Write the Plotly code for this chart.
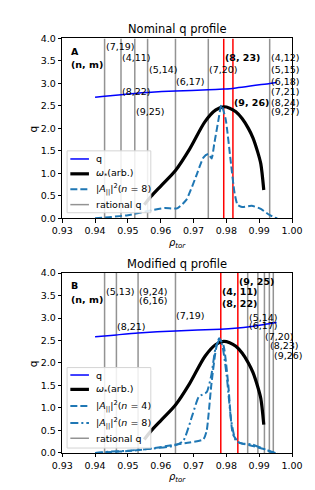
import plotly.graph_objects as go

# ---------------- data ----------------
# Panel A (nominal q profile)
rhoA_q = [0.940, 0.9429, 0.9479, 0.9521, 0.9560, 0.9645, 0.9745, 0.9792, 0.9820, 0.9932, 0.9953]
qA = [2.69, 2.714, 2.75, 2.778, 2.80, 2.833, 2.857, 2.875, 2.889, 3.0, 3.02]

rho_w = [0.955, 0.9570, 0.9603, 0.9645, 0.9688, 0.9735, 0.9768, 0.9792, 0.9810, 0.9829,
         0.9848, 0.9867, 0.9881, 0.9896, 0.9905, 0.9914]
omega = [0.30, 0.485, 0.74, 1.065, 1.54, 2.15, 2.41, 2.48, 2.45, 2.37,
         2.22, 2.0, 1.79, 1.46, 1.21, 0.63]

rhoA_A8 = [0.940, 0.945, 0.950, 0.9565, 0.9612, 0.9650, 0.9678, 0.9707, 0.9730, 0.9745,
           0.9755, 0.9763, 0.9775, 0.9785, 0.9798, 0.9812, 0.9825, 0.9834, 0.9848, 0.9877,
           0.9905, 0.9928, 0.9947, 0.9955]
A8_A = [0.0, 0.03, 0.07, 0.17, 0.23, 0.22, 0.41, 0.92, 1.35, 1.43,
        1.33, 1.65, 2.15, 2.52, 2.2, 1.35, 0.56, 0.30, 0.25, 0.28,
        0.21, 0.09, 0.015, 0.0]

ratA_rho = [0.9429, 0.9479, 0.9521, 0.9560, 0.9645, 0.9745, 0.9932]
resA_rho = [0.9792, 0.9820]

labA_text = ["(7,19)", "(4,11)", "(8,22)", "(9,25)", "(5,14)", "(6,17)", "(7,20)",
             "<b>(8, 23)</b>", "<b>(9, 26)</b>",
             "(4,12)", "(5,15)", "(6,18)", "(7,21)", "(8,24)", "(9,27)"]
labA_rho = [0.9429, 0.9479, 0.9479, 0.9521, 0.9560, 0.9645, 0.9745,
            0.9792, 0.9820,
            0.9932, 0.9932, 0.9932, 0.9932, 0.9932, 0.9932]
labA_q = [3.82, 3.58, 2.82, 2.37, 3.30, 3.05, 3.30,
          3.58, 2.57,
          3.58, 3.30, 3.05, 2.82, 2.57, 2.37]

# Panel B (modified q profile)
rhoB_q = [0.940, 0.9429, 0.9465, 0.9531, 0.9645, 0.9783, 0.9835, 0.9865, 0.9896, 0.9916,
          0.9931, 0.9943, 0.9953]
qB = [2.585, 2.6, 2.625, 2.667, 2.714, 2.75, 2.778, 2.8, 2.833, 2.857,
      2.875, 2.889, 2.90]

rhoB_A4 = [0.940, 0.945, 0.950, 0.9565, 0.9641, 0.9688, 0.9730, 0.9740, 0.9754, 0.9768,
           0.9778, 0.9792, 0.9806, 0.9820, 0.9839, 0.9877, 0.9914, 0.9943, 0.9955]
A4_B = [0.0, 0.02, 0.04, 0.09, 0.18, 0.23, 0.30, 0.49, 1.5, 2.30,
        2.55, 2.37, 1.5, 0.41, 0.23, 0.16, 0.087, 0.015, 0.0]

rhoB_A8 = [0.940, 0.945, 0.950, 0.9565, 0.9641, 0.9669, 0.9697, 0.9716, 0.9740, 0.9754,
           0.9768, 0.9778, 0.9787, 0.9801, 0.9815, 0.9829, 0.9848, 0.9877, 0.9914, 0.9938,
           0.9950]
A8_B = [0.0, 0.03, 0.05, 0.09, 0.16, 0.27, 0.85, 1.25, 1.35, 1.72,
        2.37, 2.5, 2.41, 1.72, 0.70, 0.27, 0.21, 0.19, 0.09, 0.015,
        0.0]

ratB_rho = [0.9429, 0.9465, 0.9531, 0.9645, 0.9865, 0.9896, 0.9916, 0.9931, 0.9943]
resB_rho = [0.9783, 0.9835]

labB_text = ["(5,13)", "(8,21)", "(9,24)", "(6,16)", "(7,19)",
             "<b>(4, 11)</b>", "<b>(8, 22)</b>", "<b>(9, 25)</b>",
             "(5,14)", "(6,17)", "(7,20)", "(8,23)", "(9,26)"]
labB_rho = [0.9429, 0.9465, 0.9531, 0.9531, 0.9645,
            0.9783, 0.9783, 0.9835,
            0.9865, 0.9865, 0.9916, 0.9931, 0.9943]
labB_q = [3.58, 2.82, 3.58, 3.38, 3.06,
          3.58, 3.33, 3.82,
          3.02, 2.84, 2.60, 2.40, 2.17]

x_ticks = [0.93, 0.94, 0.95, 0.96, 0.97, 0.98, 0.99, 1.00]
y_ticks = [0.0, 0.5, 1.0, 1.5, 2.0, 2.5, 3.0, 3.5, 4.0]

LEG_Q = "q"
LEG_W = "<i>ω</i><sub>*</sub>(arb.)"
LEG_A4 = "|<i>A</i><sub>||</sub>|<sup>2</sup>(<i>n</i> = 4)"
LEG_A8 = "|<i>A</i><sub>||</sub>|<sup>2</sup>(<i>n</i> = 8)"
LEG_R = "rational q"

# ---------------- figure ----------------
W, H = 315, 490
FONT = "DejaVu Sans"
GRAY = "rgba(128,128,128,0.85)"
C0 = "#1f77b4"
DASH = "7px,3px"
DASHDOT = "8px,3px,2px,3px"

fig = go.Figure()


def vlines(rhos):
    xs, ys = [], []
    for r in rhos:
        xs += [r, r, None]
        ys += [0, 4, None]
    return xs, ys


def add_panel(xa, ya, rat, res, rq, qv, a_curves):
    xs, ys = vlines(rat)
    fig.add_trace(go.Scatter(x=xs, y=ys, mode="lines", line=dict(color=GRAY, width=1.5),
                             name=LEG_R, xaxis=xa, yaxis=ya, hoverinfo="skip"))
    xs, ys = vlines(res)
    fig.add_trace(go.Scatter(x=xs, y=ys, mode="lines", line=dict(color="red", width=1.5),
                             xaxis=xa, yaxis=ya, hoverinfo="skip"))
    fig.add_trace(go.Scatter(x=rq, y=qv, mode="lines", line=dict(color="blue", width=1.5,
                             shape="spline", smoothing=0.6),
                             name=LEG_Q, xaxis=xa, yaxis=ya))
    fig.add_trace(go.Scatter(x=rho_w, y=omega, mode="lines",
                             line=dict(color="black", width=3.2, shape="spline", smoothing=0.8),
                             name=LEG_W, xaxis=xa, yaxis=ya))
    for rx, ay, nm, dash in a_curves:
        fig.add_trace(go.Scatter(x=rx, y=ay, mode="lines",
                                 line=dict(color=C0, width=2, dash=dash, shape="spline",
                                           smoothing=0.5),
                                 name=nm, xaxis=xa, yaxis=ya))


add_panel("x", "y", ratA_rho, resA_rho, rhoA_q, qA,
          [(rhoA_A8, A8_A, LEG_A8, DASH)])
add_panel("x2", "y2", ratB_rho, resB_rho, rhoB_q, qB,
          [(rhoB_A4, A4_B, LEG_A4, DASH),
           (rhoB_A8, A8_B, LEG_A8, DASHDOT)])

xdom = [46.5 / W, 293.5 / W]
ydomA = [1 - 209 / H, 1 - 25 / H]
ydomB = [1 - 449 / H, 1 - 265 / H]

axis_common = dict(showline=True, mirror=True, linecolor="black", linewidth=1,
                   ticks="outside", ticklen=3.5, tickwidth=0.8, tickcolor="black",
                   showgrid=False, zeroline=False,
                   tickfont=dict(family=FONT, size=9.5, color="black"))

xt = [f"{v:.2f}" for v in x_ticks]
yt = [f"{v:.1f}" for v in y_ticks]

fig.update_layout(
    width=W, height=H, margin=dict(l=0, r=0, t=0, b=0),
    plot_bgcolor="white", paper_bgcolor="white",
    font=dict(family=FONT, size=10, color="black"),
    showlegend=False,
    xaxis=dict(domain=xdom, anchor="y", range=[0.93, 1.0], tickvals=x_ticks, ticktext=xt,
               title=dict(text="<i>ρ</i><sub><i>tor</i></sub>", font=dict(size=10), standoff=3),
               **axis_common),
    yaxis=dict(domain=ydomA, anchor="x", range=[0, 4], tickvals=y_ticks, ticktext=yt,
               **axis_common),
    xaxis2=dict(domain=xdom, anchor="y2", range=[0.93, 1.0], tickvals=x_ticks, ticktext=xt,
                title=dict(text="<i>ρ</i><sub><i>tor</i></sub>", font=dict(size=10), standoff=3),
                **axis_common),
    yaxis2=dict(domain=ydomB, anchor="x2", range=[0, 4], tickvals=y_ticks, ticktext=yt,
                **axis_common),
)

ann = []
shapes = []
for txt, rx, qy in zip(labA_text, labA_rho, labA_q):
    ann.append(dict(x=rx, y=qy, xref="x", yref="y", text=txt, showarrow=False,
                    xanchor="left", yanchor="middle", font=dict(size=9.5), borderpad=0))
for txt, rx, qy in zip(labB_text, labB_rho, labB_q):
    ann.append(dict(x=rx, y=qy, xref="x2", yref="y2", text=txt, showarrow=False,
                    xanchor="left", yanchor="middle", font=dict(size=9.5), borderpad=0))

for xr, yr, letter in [("x", "y", "A"), ("x2", "y2", "B")]:
    ann.append(dict(x=0.9322, y=3.72, xref=xr, yref=yr, text=f"<b>{letter}</b>",
                    showarrow=False, xanchor="left", yanchor="middle", font=dict(size=9.5)))
    ann.append(dict(x=0.9322, y=3.41, xref=xr, yref=yr, text="<b>(n, m)</b>",
                    showarrow=False, xanchor="left", yanchor="middle", font=dict(size=9.5)))

ann.append(dict(x=sum(xdom) / 2, y=1 - 15.7 / H, xref="paper", yref="paper",
                text="Nominal q profile", showarrow=False, xanchor="center", yanchor="middle",
                font=dict(size=11.5)))
ann.append(dict(x=sum(xdom) / 2, y=1 - 255.7 / H, xref="paper", yref="paper",
                text="Modified q profile", showarrow=False, xanchor="center", yanchor="middle",
                font=dict(size=11.5)))


# ---- legends drawn as boxes (pixel layout converted to paper coords) ----
def px(x):
    return x / W


def py(y):
    return 1 - y / H


# y-axis titles
for yc in (117.3, 357.3):
    ann.append(dict(x=px(15), y=py(yc), xref="paper", yref="paper", text="q",
                    showarrow=False, textangle=-90, xanchor="center", yanchor="middle",
                    font=dict(size=10.5)))


def legend_box(x0, y0, x1, y1, entries):
    shapes.append(dict(type="rect", xref="paper", yref="paper", layer="above",
                       x0=px(x0), x1=px(x1), y0=py(y1), y1=py(y0),
                       fillcolor="rgba(255,255,255,0.85)",
                       line=dict(color="#d4d4d4", width=1)))
    for yc, name, color, width, dash in entries:
        shapes.append(dict(type="line", xref="paper", yref="paper", layer="above",
                           x0=px(x0 + 3.5), x1=px(x0 + 23.5), y0=py(yc), y1=py(yc),
                           line=dict(color=color, width=width, dash=dash)))
        ann.append(dict(x=px(x0 + 29.5), y=py(yc), xref="paper", yref="paper", text=name,
                        showarrow=False, xanchor="left", yanchor="middle",
                        font=dict(size=9.5), borderpad=0))


legend_box(51.7, 140, 141.7, 203.3, [
    (148.3, LEG_Q, "blue", 1.5, "solid"),
    (163.5, LEG_W, "black", 3.2, "solid"),
    (179.3, LEG_A8, C0, 2, DASH),
    (195.0, LEG_R, GRAY, 1.5, "solid"),
])
legend_box(51.7, 361.7, 141.7, 444, [
    (369.3, LEG_Q, "blue", 1.5, "solid"),
    (384.0, LEG_W, "black", 3.2, "solid"),
    (401.0, LEG_A4, C0, 2, DASH),
    (418.3, LEG_A8, C0, 2, DASHDOT),
    (434.0, LEG_R, GRAY, 1.5, "solid"),
])

fig.update_layout(annotations=ann, shapes=shapes)
fig.write_html("out.html")
